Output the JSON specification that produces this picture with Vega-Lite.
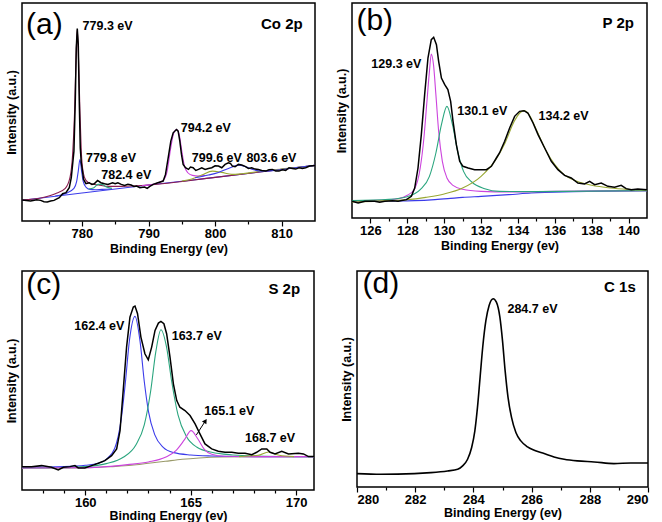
{
  "$schema": "https://vega.github.io/schema/vega-lite/v6.json",
  "padding": {"left": 4, "top": 2, "right": 5, "bottom": 0},
  "config": {
    "font": "Liberation Sans",
    "view": {"stroke": "black", "strokeWidth": 1.5},
    "axis": {"grid": false, "domain": false, "labelFont": "Liberation Sans", "labelFontWeight": "bold", "labelFontSize": 13, "labelColor": "black", "titleFont": "Liberation Sans", "titleFontWeight": "bold", "titleFontSize": 12.5, "titleColor": "black", "tickColor": "black", "tickWidth": 1.2, "labelOverlap": false}
  },
  "datasets": {
    "a": [
      {"s":"raw","E":771,"I":63},{"s":"raw","E":772.3,"I":60},{"s":"raw","E":773.2,"I":64},{"s":"raw","E":773.8,"I":62},{"s":"raw","E":774.3,"I":58},{"s":"raw","E":774.8,"I":57},{"s":"raw","E":775.3,"I":60},{"s":"raw","E":775.8,"I":62},{"s":"raw","E":776.6,"I":70},{"s":"raw","E":777.1,"I":82},{"s":"raw","E":777.6,"I":85},{"s":"raw","E":778.1,"I":100},{"s":"raw","E":778.4,"I":130},{"s":"raw","E":778.8,"I":210},{"s":"raw","E":779.0,"I":360},{"s":"raw","E":779.15,"I":520},{"s":"raw","E":779.3,"I":578},{"s":"raw","E":779.45,"I":530},{"s":"raw","E":779.6,"I":360},{"s":"raw","E":779.75,"I":220},{"s":"raw","E":779.9,"I":175},{"s":"raw","E":780.05,"I":155},{"s":"raw","E":780.25,"I":125},{"s":"raw","E":780.6,"I":112},{"s":"raw","E":781.1,"I":115},{"s":"raw","E":781.5,"I":110},{"s":"raw","E":781.85,"I":112},{"s":"raw","E":782.35,"I":122},{"s":"raw","E":782.85,"I":115},{"s":"raw","E":783.4,"I":112},{"s":"raw","E":783.9,"I":110},{"s":"raw","E":784.6,"I":115},{"s":"raw","E":785.0,"I":112},{"s":"raw","E":785.4,"I":115},{"s":"raw","E":785.9,"I":110},{"s":"raw","E":786.4,"I":107},{"s":"raw","E":786.9,"I":110},{"s":"raw","E":787.4,"I":108},{"s":"raw","E":787.8,"I":104},{"s":"raw","E":788.2,"I":105},{"s":"raw","E":788.7,"I":100},{"s":"raw","E":789.4,"I":102},{"s":"raw","E":789.8,"I":98},{"s":"raw","E":790.2,"I":104},{"s":"raw","E":790.7,"I":110},{"s":"raw","E":791.4,"I":115},{"s":"raw","E":792.2,"I":120},{"s":"raw","E":792.55,"I":140},{"s":"raw","E":792.95,"I":190},{"s":"raw","E":793.35,"I":240},{"s":"raw","E":793.7,"I":265},{"s":"raw","E":794.2,"I":275},{"s":"raw","E":794.45,"I":270},{"s":"raw","E":794.7,"I":240},{"s":"raw","E":794.95,"I":200},{"s":"raw","E":795.2,"I":170},{"s":"raw","E":795.55,"I":160},{"s":"raw","E":796.0,"I":155},{"s":"raw","E":796.3,"I":162},{"s":"raw","E":796.7,"I":160},{"s":"raw","E":797.1,"I":152},{"s":"raw","E":797.5,"I":155},{"s":"raw","E":798.0,"I":160},{"s":"raw","E":798.5,"I":155},{"s":"raw","E":799.0,"I":158},{"s":"raw","E":799.5,"I":160},{"s":"raw","E":800.0,"I":166},{"s":"raw","E":800.5,"I":165},{"s":"raw","E":801.0,"I":160},{"s":"raw","E":801.5,"I":170},{"s":"raw","E":802.0,"I":175},{"s":"raw","E":802.3,"I":173},{"s":"raw","E":802.6,"I":165},{"s":"raw","E":803.0,"I":163},{"s":"raw","E":803.5,"I":170},{"s":"raw","E":804.0,"I":168},{"s":"raw","E":804.5,"I":164},{"s":"raw","E":805.0,"I":158},{"s":"raw","E":805.5,"I":160},{"s":"raw","E":806.0,"I":156},{"s":"raw","E":806.5,"I":155},{"s":"raw","E":807.0,"I":152},{"s":"raw","E":807.6,"I":150},{"s":"raw","E":808.1,"I":154},{"s":"raw","E":808.6,"I":155},{"s":"raw","E":809.1,"I":150},{"s":"raw","E":809.6,"I":150},{"s":"raw","E":810.1,"I":154},{"s":"raw","E":810.6,"I":152},{"s":"raw","E":811.1,"I":160},{"s":"raw","E":811.6,"I":158},{"s":"raw","E":812.1,"I":156},{"s":"raw","E":812.6,"I":160},{"s":"raw","E":813.1,"I":158},{"s":"raw","E":813.6,"I":160},{"s":"raw","E":814.2,"I":165},{"s":"raw","E":815,"I":167},
      {"s":"base","E":771,"I":62},{"s":"base","E":780,"I":84},{"s":"base","E":790,"I":108},{"s":"base","E":800,"I":131},{"s":"base","E":810,"I":155},{"s":"base","E":815,"I":167},
      {"s":"p7793","E":771,"I":63},{"s":"p7793","E":774,"I":70},{"s":"p7793","E":776,"I":82},{"s":"p7793","E":777.5,"I":98},{"s":"p7793","E":778.2,"I":130},{"s":"p7793","E":778.6,"I":200},{"s":"p7793","E":778.9,"I":330},{"s":"p7793","E":779.1,"I":480},{"s":"p7793","E":779.3,"I":575},{"s":"p7793","E":779.5,"I":480},{"s":"p7793","E":779.7,"I":330},{"s":"p7793","E":779.9,"I":210},{"s":"p7793","E":780.2,"I":145},{"s":"p7793","E":780.6,"I":122},{"s":"p7793","E":781.3,"I":112},{"s":"p7793","E":782.5,"I":108},{"s":"p7793","E":784,"I":104},{"s":"p7793","E":786,"I":104},{"s":"p7793","E":790,"I":108},{"s":"p7793","E":800,"I":131},{"s":"p7793","E":810,"I":155},{"s":"p7793","E":815,"I":167},
      {"s":"p7798","E":776,"I":75},{"s":"p7798","E":777.5,"I":82},{"s":"p7798","E":778.8,"I":98},{"s":"p7798","E":779.2,"I":118},{"s":"p7798","E":779.45,"I":150},{"s":"p7798","E":779.7,"I":185},{"s":"p7798","E":779.95,"I":150},{"s":"p7798","E":780.2,"I":118},{"s":"p7798","E":780.6,"I":102},{"s":"p7798","E":781.2,"I":95},{"s":"p7798","E":782,"I":94},{"s":"p7798","E":783,"I":95},{"s":"p7798","E":784.5,"I":96},
      {"s":"p7824","E":781,"I":96},{"s":"p7824","E":781.8,"I":100},{"s":"p7824","E":782.4,"I":110},{"s":"p7824","E":783.0,"I":110},{"s":"p7824","E":783.6,"I":103},{"s":"p7824","E":784.5,"I":98},
      {"s":"p7942","E":789,"I":106},{"s":"p7942","E":791,"I":112},{"s":"p7942","E":792.2,"I":122},{"s":"p7942","E":792.8,"I":150},{"s":"p7942","E":793.3,"I":215},{"s":"p7942","E":793.8,"I":265},{"s":"p7942","E":794.2,"I":275},{"s":"p7942","E":794.6,"I":260},{"s":"p7942","E":795.0,"I":210},{"s":"p7942","E":795.4,"I":165},{"s":"p7942","E":795.9,"I":145},{"s":"p7942","E":796.6,"I":137},{"s":"p7942","E":797.5,"I":135},{"s":"p7942","E":798.5,"I":137},
      {"s":"p7996","E":795,"I":120},{"s":"p7996","E":796.5,"I":126},{"s":"p7996","E":798,"I":138},{"s":"p7996","E":799.6,"I":150},{"s":"p7996","E":801,"I":146},{"s":"p7996","E":802.5,"I":140},{"s":"p7996","E":804,"I":142},{"s":"p7996","E":806,"I":147},{"s":"p7996","E":808,"I":152},{"s":"p7996","E":811,"I":158},{"s":"p7996","E":815,"I":167},
      {"s":"p8036","E":797,"I":130},{"s":"p8036","E":799,"I":138},{"s":"p8036","E":800.5,"I":146},{"s":"p8036","E":802,"I":158},{"s":"p8036","E":803.6,"I":168},{"s":"p8036","E":804.6,"I":163},{"s":"p8036","E":805.8,"I":154},{"s":"p8036","E":807,"I":150},{"s":"p8036","E":809,"I":152},{"s":"p8036","E":812,"I":160},{"s":"p8036","E":815,"I":167}
    ],
    "b": [
      {"s":"raw","E":125.0,"I":50},{"s":"raw","E":125.33,"I":45},{"s":"raw","E":125.7,"I":50},{"s":"raw","E":126.23,"I":50},{"s":"raw","E":126.5,"I":47},{"s":"raw","E":126.78,"I":50},{"s":"raw","E":127.2,"I":52},{"s":"raw","E":127.5,"I":50},{"s":"raw","E":127.95,"I":55},{"s":"raw","E":128.22,"I":65},{"s":"raw","E":128.4,"I":90},{"s":"raw","E":128.58,"I":150},{"s":"raw","E":128.76,"I":250},{"s":"raw","E":128.94,"I":370},{"s":"raw","E":129.12,"I":480},{"s":"raw","E":129.3,"I":535},{"s":"raw","E":129.43,"I":542},{"s":"raw","E":129.58,"I":520},{"s":"raw","E":129.7,"I":470},{"s":"raw","E":129.85,"I":420},{"s":"raw","E":130.03,"I":400},{"s":"raw","E":130.2,"I":385},{"s":"raw","E":130.35,"I":350},{"s":"raw","E":130.48,"I":290},{"s":"raw","E":130.66,"I":220},{"s":"raw","E":130.84,"I":170},{"s":"raw","E":131.02,"I":155},{"s":"raw","E":131.3,"I":150},{"s":"raw","E":131.65,"I":145},{"s":"raw","E":132.0,"I":145},{"s":"raw","E":132.29,"I":145},{"s":"raw","E":132.56,"I":155},{"s":"raw","E":132.83,"I":180},{"s":"raw","E":133.0,"I":195},{"s":"raw","E":133.28,"I":230},{"s":"raw","E":133.55,"I":270},{"s":"raw","E":133.82,"I":305},{"s":"raw","E":134.09,"I":320},{"s":"raw","E":134.33,"I":322},{"s":"raw","E":134.54,"I":315},{"s":"raw","E":134.82,"I":285},{"s":"raw","E":135.09,"I":250},{"s":"raw","E":135.45,"I":210},{"s":"raw","E":135.81,"I":170},{"s":"raw","E":136.17,"I":145},{"s":"raw","E":136.53,"I":128},{"s":"raw","E":136.89,"I":120},{"s":"raw","E":137.25,"I":105},{"s":"raw","E":137.61,"I":102},{"s":"raw","E":137.89,"I":110},{"s":"raw","E":138.16,"I":100},{"s":"raw","E":138.52,"I":105},{"s":"raw","E":138.88,"I":95},{"s":"raw","E":139.24,"I":92},{"s":"raw","E":139.6,"I":98},{"s":"raw","E":139.87,"I":88},{"s":"raw","E":140.14,"I":85},{"s":"raw","E":140.5,"I":87},{"s":"raw","E":141.0,"I":85},
      {"s":"base","E":125,"I":50},{"s":"base","E":127,"I":51},{"s":"base","E":128.4,"I":52},{"s":"base","E":129.5,"I":55},{"s":"base","E":130.2,"I":58},{"s":"base","E":131,"I":62},{"s":"base","E":132,"I":65},{"s":"base","E":133.5,"I":70},{"s":"base","E":134.72,"I":75},{"s":"base","E":137,"I":79},{"s":"base","E":141,"I":82},
      {"s":"p1293","E":125,"I":52},{"s":"p1293","E":126.5,"I":53},{"s":"p1293","E":127.5,"I":58},{"s":"p1293","E":128,"I":68},{"s":"p1293","E":128.4,"I":88},{"s":"p1293","E":128.7,"I":150},{"s":"p1293","E":128.9,"I":240},{"s":"p1293","E":129.05,"I":340},{"s":"p1293","E":129.2,"I":440},{"s":"p1293","E":129.3,"I":492},{"s":"p1293","E":129.42,"I":460},{"s":"p1293","E":129.55,"I":370},{"s":"p1293","E":129.7,"I":260},{"s":"p1293","E":129.9,"I":170},{"s":"p1293","E":130.15,"I":120},{"s":"p1293","E":130.5,"I":97},{"s":"p1293","E":131,"I":86},{"s":"p1293","E":132,"I":80},{"s":"p1293","E":133.5,"I":78},{"s":"p1293","E":136,"I":80},{"s":"p1293","E":141,"I":82},
      {"s":"p1301","E":125,"I":52},{"s":"p1301","E":127,"I":56},{"s":"p1301","E":128,"I":64},{"s":"p1301","E":128.7,"I":85},{"s":"p1301","E":129.2,"I":125},{"s":"p1301","E":129.55,"I":195},{"s":"p1301","E":129.85,"I":280},{"s":"p1301","E":130.15,"I":335},{"s":"p1301","E":130.45,"I":280},{"s":"p1301","E":130.75,"I":195},{"s":"p1301","E":131.05,"I":140},{"s":"p1301","E":131.5,"I":108},{"s":"p1301","E":132.2,"I":88},{"s":"p1301","E":133,"I":80},{"s":"p1301","E":135,"I":79},{"s":"p1301","E":141,"I":82},
      {"s":"p1342","E":125,"I":48},{"s":"p1342","E":127,"I":52},{"s":"p1342","E":128,"I":55},{"s":"p1342","E":129,"I":62},{"s":"p1342","E":130,"I":72},{"s":"p1342","E":131,"I":90},{"s":"p1342","E":132,"I":125},{"s":"p1342","E":132.8,"I":175},{"s":"p1342","E":133.3,"I":225},{"s":"p1342","E":133.8,"I":290},{"s":"p1342","E":134.1,"I":315},{"s":"p1342","E":134.33,"I":322},{"s":"p1342","E":134.6,"I":310},{"s":"p1342","E":135.0,"I":265},{"s":"p1342","E":135.5,"I":205},{"s":"p1342","E":136,"I":160},{"s":"p1342","E":136.5,"I":130},{"s":"p1342","E":137.2,"I":110},{"s":"p1342","E":138,"I":98},{"s":"p1342","E":139,"I":90},{"s":"p1342","E":140,"I":86},{"s":"p1342","E":141,"I":84}
    ],
    "c": [
      {"s":"raw","E":157.0,"I":70},{"s":"raw","E":157.45,"I":70},{"s":"raw","E":157.93,"I":73},{"s":"raw","E":158.4,"I":68},{"s":"raw","E":158.72,"I":60},{"s":"raw","E":158.96,"I":68},{"s":"raw","E":159.27,"I":70},{"s":"raw","E":159.51,"I":73},{"s":"raw","E":159.67,"I":66},{"s":"raw","E":159.98,"I":66},{"s":"raw","E":160.3,"I":73},{"s":"raw","E":160.62,"I":80},{"s":"raw","E":160.93,"I":88},{"s":"raw","E":161.25,"I":103},{"s":"raw","E":161.49,"I":123},{"s":"raw","E":161.65,"I":178},{"s":"raw","E":161.8,"I":298},{"s":"raw","E":161.96,"I":428},{"s":"raw","E":162.12,"I":518},{"s":"raw","E":162.28,"I":548},{"s":"raw","E":162.36,"I":551},{"s":"raw","E":162.48,"I":528},{"s":"raw","E":162.64,"I":458},{"s":"raw","E":162.83,"I":408},{"s":"raw","E":162.99,"I":390},{"s":"raw","E":163.15,"I":428},{"s":"raw","E":163.31,"I":478},{"s":"raw","E":163.47,"I":500},{"s":"raw","E":163.59,"I":505},{"s":"raw","E":163.73,"I":498},{"s":"raw","E":163.86,"I":468},{"s":"raw","E":164.02,"I":398},{"s":"raw","E":164.18,"I":318},{"s":"raw","E":164.34,"I":268},{"s":"raw","E":164.49,"I":248},{"s":"raw","E":164.73,"I":238},{"s":"raw","E":164.97,"I":223},{"s":"raw","E":165.21,"I":198},{"s":"raw","E":165.44,"I":168},{"s":"raw","E":165.68,"I":138},{"s":"raw","E":166.0,"I":123},{"s":"raw","E":166.31,"I":116},{"s":"raw","E":166.63,"I":113},{"s":"raw","E":166.95,"I":113},{"s":"raw","E":167.26,"I":110},{"s":"raw","E":167.58,"I":110},{"s":"raw","E":167.9,"I":106},{"s":"raw","E":168.13,"I":113},{"s":"raw","E":168.37,"I":123},{"s":"raw","E":168.61,"I":123},{"s":"raw","E":168.77,"I":113},{"s":"raw","E":169.0,"I":108},{"s":"raw","E":169.32,"I":116},{"s":"raw","E":169.64,"I":108},{"s":"raw","E":170.11,"I":110},{"s":"raw","E":170.35,"I":108},{"s":"raw","E":170.59,"I":100},{"s":"raw","E":170.85,"I":100},
      {"s":"base","E":157,"I":66},{"s":"base","E":159,"I":66},{"s":"base","E":160,"I":67},{"s":"base","E":160.6,"I":68},{"s":"base","E":161.2,"I":70},{"s":"base","E":162.2,"I":74},{"s":"base","E":163,"I":80},{"s":"base","E":163.8,"I":86},{"s":"base","E":164.6,"I":92},{"s":"base","E":165.4,"I":96},{"s":"base","E":166.5,"I":99},{"s":"base","E":168,"I":100},{"s":"base","E":170.85,"I":100},
      {"s":"p1624","E":157,"I":68},{"s":"p1624","E":159,"I":70},{"s":"p1624","E":160,"I":74},{"s":"p1624","E":160.6,"I":80},{"s":"p1624","E":161,"I":92},{"s":"p1624","E":161.4,"I":125},{"s":"p1624","E":161.7,"I":210},{"s":"p1624","E":161.9,"I":320},{"s":"p1624","E":162.1,"I":450},{"s":"p1624","E":162.36,"I":520},{"s":"p1624","E":162.6,"I":445},{"s":"p1624","E":162.8,"I":325},{"s":"p1624","E":163.0,"I":235},{"s":"p1624","E":163.3,"I":165},{"s":"p1624","E":163.7,"I":128},{"s":"p1624","E":164.2,"I":112},{"s":"p1624","E":165,"I":105},{"s":"p1624","E":166,"I":102},{"s":"p1624","E":168,"I":100},{"s":"p1624","E":170.85,"I":100},
      {"s":"p1637","E":157,"I":66},{"s":"p1637","E":159,"I":67},{"s":"p1637","E":160,"I":70},{"s":"p1637","E":161,"I":79},{"s":"p1637","E":161.8,"I":98},{"s":"p1637","E":162.4,"I":135},{"s":"p1637","E":162.8,"I":195},{"s":"p1637","E":163.1,"I":295},{"s":"p1637","E":163.35,"I":415},{"s":"p1637","E":163.59,"I":480},{"s":"p1637","E":163.85,"I":430},{"s":"p1637","E":164.1,"I":325},{"s":"p1637","E":164.4,"I":225},{"s":"p1637","E":164.8,"I":160},{"s":"p1637","E":165.3,"I":128},{"s":"p1637","E":166,"I":113},{"s":"p1637","E":167,"I":105},{"s":"p1637","E":168,"I":102},{"s":"p1637","E":170.85,"I":100},
      {"s":"p1651","E":157,"I":66},{"s":"p1651","E":160,"I":67},{"s":"p1651","E":161,"I":70},{"s":"p1651","E":162,"I":76},{"s":"p1651","E":163,"I":84},{"s":"p1651","E":163.8,"I":98},{"s":"p1651","E":164.3,"I":118},{"s":"p1651","E":164.7,"I":150},{"s":"p1651","E":165.02,"I":178},{"s":"p1651","E":165.35,"I":152},{"s":"p1651","E":165.65,"I":122},{"s":"p1651","E":166,"I":107},{"s":"p1651","E":166.6,"I":101},{"s":"p1651","E":168,"I":100},{"s":"p1651","E":170.85,"I":100},
      {"s":"p1687","E":167.3,"I":100},{"s":"p1687","E":168.2,"I":104},{"s":"p1687","E":168.7,"I":114},{"s":"p1687","E":169.2,"I":104},{"s":"p1687","E":169.9,"I":100}
    ],
    "d": [
      {"E":280.0,"I":40},{"E":280.82,"I":38},{"E":281.97,"I":40},{"E":282.54,"I":43},{"E":283.11,"I":48},{"E":283.46,"I":53},{"E":283.63,"I":63},{"E":283.8,"I":83},{"E":283.94,"I":118},{"E":284.05,"I":168},{"E":284.14,"I":238},{"E":284.23,"I":328},{"E":284.32,"I":418},{"E":284.43,"I":498},{"E":284.54,"I":543},{"E":284.68,"I":563},{"E":284.79,"I":553},{"E":284.91,"I":508},{"E":285.0,"I":438},{"E":285.09,"I":348},{"E":285.19,"I":268},{"E":285.31,"I":208},{"E":285.46,"I":163},{"E":285.63,"I":138},{"E":285.86,"I":120},{"E":286.09,"I":110},{"E":286.43,"I":100},{"E":286.77,"I":90},{"E":287.12,"I":83},{"E":287.57,"I":78},{"E":288.15,"I":75},{"E":288.83,"I":70},{"E":289.41,"I":72},{"E":290.0,"I":72}
    ]
  },
  "spacing": 11,
  "resolve": {"scale": {"color": "independent", "x": "independent", "y": "independent"}},
  "vconcat": [
    {
      "hconcat": [
        {
          "width": 293, "height": 218,
          "encoding": {
            "x": {"field": "E", "type": "quantitative", "scale": {"domain": [771, 815], "nice": false, "zero": false}, "axis": {"title": "Binding Energy (ev)", "values": [775,780,785,790,795,800,805,810], "labelExpr": "datum.value % 10 === 0 ? datum.label : ''", "tickSize": {"condition": {"test": "datum.value % 10 !== 0", "value": 3}, "value": 5}, "labelPadding": 1, "titlePadding": 2}},
            "y": {"field": "I", "type": "quantitative", "scale": {"domain": [0, 655], "nice": false, "zero": false}, "axis": {"title": "Intensity (a.u.)", "labels": false, "ticks": false, "titlePadding": 4}}
          },
          "layer": [
            {"data": {"name": "a"}, "transform": [{"filter": "datum.s !== 'raw'"}], "mark": {"type": "line", "clip": true, "strokeWidth": 1.1, "interpolate": "monotone"}, "encoding": {"color": {"field": "s", "type": "nominal", "legend": null, "scale": {"domain": ["base","p7793","p7798","p7824","p7942","p7996","p8036"], "range": ["#3b3bea","#8a1d4f","#3b3bea","#2aa57e","#cc44dd","#99a833","#3b3bea"]}}}},
            {"data": {"name": "a"}, "transform": [{"filter": "datum.s === 'raw'"}], "mark": {"type": "line", "clip": true, "strokeWidth": 1.5, "color": "black"}},
            {"data": {"values": [{"E":780.1,"I":585,"t":"779.3 eV"},{"E":780.6,"I":190,"t":"779.8 eV"},{"E":782.9,"I":138,"t":"782.4 eV"},{"E":794.85,"I":278,"t":"794.2 eV"},{"E":796.5,"I":190,"t":"799.6 eV"},{"E":804.7,"I":190,"t":"803.6 eV"}]}, "mark": {"type": "text", "align": "left", "baseline": "middle", "fontWeight": "bold", "fontSize": 12.5, "font": "Liberation Sans", "color": "black"}, "encoding": {"text": {"field": "t"}}},
            {"data": {"values": [{"E":771.6,"I":590,"t":"(a)"}]}, "mark": {"type": "text", "align": "left", "baseline": "middle", "fontSize": 30, "font": "Liberation Sans", "color": "black"}, "encoding": {"text": {"field": "t"}}},
            {"data": {"values": [{"E":813.15,"I":592,"t":"Co 2p"}]}, "mark": {"type": "text", "align": "right", "baseline": "middle", "fontSize": 15, "fontWeight": "bold", "font": "Liberation Sans", "color": "black"}, "encoding": {"text": {"field": "t"}}}
          ]
        },
        {
          "width": 295, "height": 215,
          "encoding": {
            "x": {"field": "E", "type": "quantitative", "scale": {"domain": [125, 141], "nice": false, "zero": false}, "axis": {"title": "Binding Energy (ev)", "values": [127,126,128,129,130,131,132,133,134,135,136,137,138,139,140], "labelExpr": "datum.value % 2 === 0 ? datum.label : ''", "tickSize": {"condition": {"test": "datum.value % 2 !== 0", "value": 3}, "value": 5}, "labelPadding": 1, "titlePadding": 2}},
            "y": {"field": "I", "type": "quantitative", "scale": {"domain": [0, 645], "nice": false, "zero": false}, "axis": {"title": "Intensity (a.u.)", "labels": false, "ticks": false, "titlePadding": 4}}
          },
          "layer": [
            {"data": {"name": "b"}, "transform": [{"filter": "datum.s !== 'raw'"}], "mark": {"type": "line", "clip": true, "strokeWidth": 1.1, "interpolate": "monotone"}, "encoding": {"color": {"field": "s", "type": "nominal", "legend": null, "scale": {"domain": ["base","p1293","p1301","p1342"], "range": ["#3b3bea","#cc44dd","#2aa57e","#99a833"]}}}},
            {"data": {"name": "b"}, "transform": [{"filter": "datum.s === 'raw'"}], "mark": {"type": "line", "clip": true, "strokeWidth": 1.5, "color": "black"}},
            {"data": {"values": [{"E":126.05,"I":462,"t":"129.3 eV"},{"E":130.71,"I":320,"t":"130.1 eV"},{"E":135.12,"I":305,"t":"134.2 eV"}]}, "mark": {"type": "text", "align": "left", "baseline": "middle", "fontWeight": "bold", "fontSize": 12.5, "font": "Liberation Sans", "color": "black"}, "encoding": {"text": {"field": "t"}}},
            {"data": {"values": [{"E":125.24,"I":590,"t":"(b)"}]}, "mark": {"type": "text", "align": "left", "baseline": "middle", "fontSize": 30, "font": "Liberation Sans", "color": "black"}, "encoding": {"text": {"field": "t"}}},
            {"data": {"values": [{"E":140.29,"I":585,"t":"P 2p"}]}, "mark": {"type": "text", "align": "right", "baseline": "middle", "fontSize": 15, "fontWeight": "bold", "font": "Liberation Sans", "color": "black"}, "encoding": {"text": {"field": "t"}}}
          ]
        }
      ],
      "spacing": 18,
      "resolve": {"scale": {"color": "independent", "x": "independent", "y": "independent"}}
    },
    {
      "hconcat": [
        {
          "width": 292, "height": 219,
          "encoding": {
            "x": {"field": "E", "type": "quantitative", "scale": {"domain": [157, 170.85], "nice": false, "zero": false}, "axis": {"title": "Binding Energy (ev)", "values": [158,159,160,161,162,163,164,165,166,167,168,169,170], "labelExpr": "datum.value % 5 === 0 ? datum.label : ''", "tickSize": {"condition": {"test": "datum.value % 5 !== 0", "value": 3}, "value": 5}, "labelPadding": 1, "titlePadding": 0}},
            "y": {"field": "I", "type": "quantitative", "scale": {"domain": [0, 656], "nice": false, "zero": false}, "axis": {"title": "Intensity (a.u.)", "labels": false, "ticks": false, "titlePadding": 4}}
          },
          "layer": [
            {"data": {"name": "c"}, "transform": [{"filter": "datum.s !== 'raw'"}], "mark": {"type": "line", "clip": true, "strokeWidth": 1.1, "interpolate": "monotone"}, "encoding": {"color": {"field": "s", "type": "nominal", "legend": null, "scale": {"domain": ["base","p1624","p1637","p1651","p1687"], "range": ["#9a9a6a","#3b3bea","#2aa57e","#cc44dd","#99a833"]}}}},
            {"data": {"name": "c"}, "transform": [{"filter": "datum.s === 'raw'"}], "mark": {"type": "line", "clip": true, "strokeWidth": 1.5, "color": "black"}},
            {"data": {"values": [{"E":165.27,"I":165,"E2":165.7,"I2":207}]}, "mark": {"type": "rule", "color": "black", "strokeWidth": 1}, "encoding": {"x2": {"field": "E2"}, "y2": {"field": "I2"}}},
            {"data": {"values": [{"E":165.7,"I":207}]}, "mark": {"type": "point", "shape": "triangle-up", "filled": true, "color": "black", "size": 28, "angle": 33, "opacity": 1}},
            {"data": {"values": [{"E":159.48,"I":490,"t":"162.4 eV"},{"E":164.1,"I":460,"t":"163.7 eV"},{"E":165.65,"I":238,"t":"165.1 eV"},{"E":167.58,"I":156,"t":"168.7 eV"}]}, "mark": {"type": "text", "align": "left", "baseline": "middle", "fontWeight": "bold", "fontSize": 12.5, "font": "Liberation Sans", "color": "black"}, "encoding": {"text": {"field": "t"}}},
            {"data": {"values": [{"E":157.2,"I":613,"t":"(c)"}]}, "mark": {"type": "text", "align": "left", "baseline": "middle", "fontSize": 30, "font": "Liberation Sans", "color": "black"}, "encoding": {"text": {"field": "t"}}},
            {"data": {"values": [{"E":170.19,"I":603,"t":"S 2p"}]}, "mark": {"type": "text", "align": "right", "baseline": "middle", "fontSize": 15, "fontWeight": "bold", "font": "Liberation Sans", "color": "black"}, "encoding": {"text": {"field": "t"}}}
          ]
        },
        {
          "width": 291, "height": 216,
          "encoding": {
            "x": {"field": "E", "type": "quantitative", "scale": {"domain": [280, 290], "nice": false, "zero": false}, "axis": {"title": "Binding Energy (ev)", "values": [280,281,282,283,284,285,286,287,288,289,290], "labelExpr": "datum.value % 2 === 0 ? datum.label : ''", "tickSize": {"condition": {"test": "datum.value % 2 !== 0", "value": 3}, "value": 5}, "labelPadding": 1, "titlePadding": 0}},
            "y": {"field": "I", "type": "quantitative", "scale": {"domain": [0, 646], "nice": false, "zero": false}, "axis": {"title": "Intensity (a.u.)", "labels": false, "ticks": false, "titlePadding": 4}}
          },
          "layer": [
            {"data": {"name": "d"}, "mark": {"type": "line", "clip": true, "strokeWidth": 1.6, "color": "black", "interpolate": "monotone"}},
            {"data": {"values": [{"E":285.17,"I":533,"t":"284.7 eV"}]}, "mark": {"type": "text", "align": "left", "baseline": "middle", "fontWeight": "bold", "fontSize": 12.5, "font": "Liberation Sans", "color": "black"}, "encoding": {"text": {"field": "t"}}},
            {"data": {"values": [{"E":280.19,"I":608,"t":"(d)"}]}, "mark": {"type": "text", "align": "left", "baseline": "middle", "fontSize": 30, "font": "Liberation Sans", "color": "black"}, "encoding": {"text": {"field": "t"}}},
            {"data": {"values": [{"E":289.58,"I":598,"t":"C 1s"}]}, "mark": {"type": "text", "align": "right", "baseline": "middle", "fontSize": 15, "fontWeight": "bold", "font": "Liberation Sans", "color": "black"}, "encoding": {"text": {"field": "t"}}}
          ]
        }
      ],
      "spacing": 24,
      "resolve": {"scale": {"color": "independent", "x": "independent", "y": "independent"}}
    }
  ]
}
